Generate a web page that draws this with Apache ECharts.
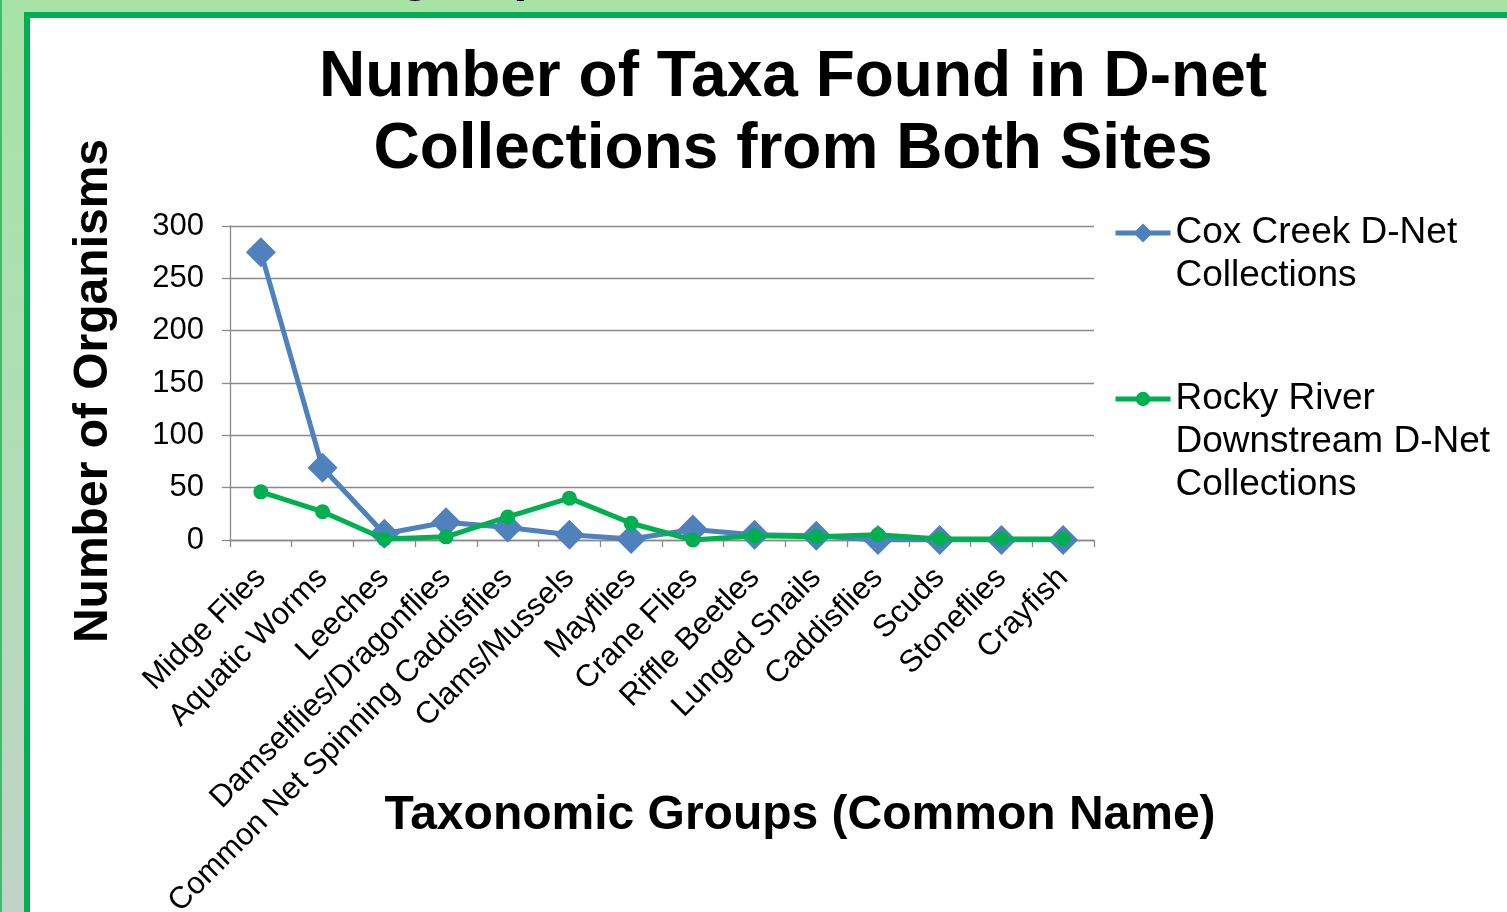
<!DOCTYPE html>
<html><head><meta charset="utf-8">
<script src="https://cdn.jsdelivr.net/npm/echarts@6/dist/echarts.min.js"></script>
<style>
html,body{margin:0;padding:0;width:1507px;height:912px;overflow:hidden;}
body{background:linear-gradient(180deg,#a7e3a7 0%,#b2dcb7 55%,#bfd3c6 100%);position:relative;}
#edge{position:absolute;left:0;top:0;width:2px;height:912px;background:#36c068;}
#frame{position:absolute;left:24px;top:12px;width:1500px;height:920px;background:#fff;border-left:6px solid #00b050;border-top:6px solid #00b050;}
#chart{position:absolute;left:0;top:0;width:1507px;height:912px;}
</style></head>
<body>
<div id="edge"></div>
<div id="frame"></div>
<div id="chart"></div>
<script>
const categories = ['Midge Flies','Aquatic Worms','Leeches','Damselflies/Dragonflies','Common Net Spinning Caddisflies','Clams/Mussels','Mayflies','Crane Flies','Riffle Beetles','Lunged Snails','Caddisflies','Scuds','Stoneflies','Crayfish'];
const coxCreek = [275, 69, 6, 17, 12, 5, 1, 10, 5, 4, 0, 0, 0, 0];
const rockyRiver = [46, 27, 1, 3, 22, 40, 16, 0, 4, 3, 5, 1, 1, 1];
const seriesNames = ['Cox Creek D-Net Collections', 'Rocky River Downstream D-Net Collections'];
// leading blank lines keep the legend symbol level with the first text line
const legendLines = {
  'Cox Creek D-Net Collections': '\nCox Creek D-Net\nCollections',
  'Rocky River Downstream D-Net Collections': '\n\nRocky River\nDownstream D-Net\nCollections'
};
const yTicks = {min: 0, max: 300, interval: 50};

const FONT = '"Liberation Sans", Arial, sans-serif';
const BLUE = '#4f81bd', GREEN = '#00b050', GRID = '#8a8a8a';
const legendText = {fontFamily: FONT, fontSize: 37, color: '#000', lineHeight: 43};
const chart = echarts.init(document.getElementById('chart'), null, {renderer: 'canvas'});
chart.setOption({
  backgroundColor: 'transparent',
  animation: false,
  textStyle: {fontFamily: FONT},
  title: {
    text: 'Number of Taxa Found in D-net\nCollections from Both Sites',
    left: 793, top: 42, textAlign: 'center', padding: 0,
    textStyle: {fontFamily: FONT, fontSize: 64, fontWeight: 'bold', color: '#000', lineHeight: 72}
  },
  graphic: [
    {type: 'text', left: 400, top: -50, silent: true,
     style: {text: 'group,', fontFamily: FONT, fontSize: 51, fontWeight: 'bold', fill: '#000'}},
    {type: 'text', x: 800, y: 816, silent: true,
     style: {text: 'Taxonomic Groups (Common Name)', fontFamily: FONT, fontSize: 48, fontWeight: 'bold',
             fill: '#000', align: 'center', verticalAlign: 'middle'}}
  ],
  legend: [
    {data: [seriesNames[0]], orient: 'vertical', left: 1113, top: 168.5, padding: 0,
     itemWidth: 55, itemHeight: 24, itemGap: 0,
     lineStyle: {width: 5}, formatter: n => legendLines[n], textStyle: legendText},
    {data: [seriesNames[1]], orient: 'vertical', left: 1113, top: 291.5, padding: 0,
     itemWidth: 55, itemHeight: 18, itemGap: 0,
     lineStyle: {width: 5}, formatter: n => legendLines[n], textStyle: legendText}
  ],
  grid: {left: 230, right: 413, top: 226, bottom: 372, containLabel: false, outerBoundsMode: 'none'},
  xAxis: {
    type: 'category', data: categories, boundaryGap: true,
    axisLine: {show: true, lineStyle: {color: GRID, width: 1.3}},
    axisTick: {show: true, interval: 0, length: 7, lineStyle: {color: GRID, width: 1.3}},
    axisLabel: {interval: 0, rotate: 45, margin: 33, color: '#000', fontFamily: FONT, fontSize: 31},
    splitLine: {show: false}
  },
  yAxis: {
    type: 'value', min: yTicks.min, max: yTicks.max, interval: yTicks.interval,
    name: 'Number of Organisms', nameLocation: 'middle', nameGap: 112, nameRotate: 90,
    nameTextStyle: {fontFamily: FONT, fontSize: 48, fontWeight: 'bold', color: '#000', padding: [0, 16, 0, 0]},
    axisLine: {show: true, lineStyle: {color: GRID, width: 1.3}},
    axisTick: {show: true, length: 8, lineStyle: {color: GRID, width: 1.3}},
    axisLabel: {margin: 26, color: '#000', fontFamily: FONT, fontSize: 31},
    splitLine: {show: true, lineStyle: {color: GRID, width: 1.3}}
  },
  series: [
    {name: seriesNames[0], type: 'line', data: coxCreek, symbol: 'diamond', symbolSize: 30,
     lineStyle: {color: BLUE, width: 5}, itemStyle: {color: BLUE, borderWidth: 0}, z: 2},
    {name: seriesNames[1], type: 'line', data: rockyRiver, symbol: 'circle', symbolSize: 15,
     lineStyle: {color: GREEN, width: 5}, itemStyle: {color: GREEN, borderWidth: 0}, z: 3}
  ]
});
</script>
</body></html>
